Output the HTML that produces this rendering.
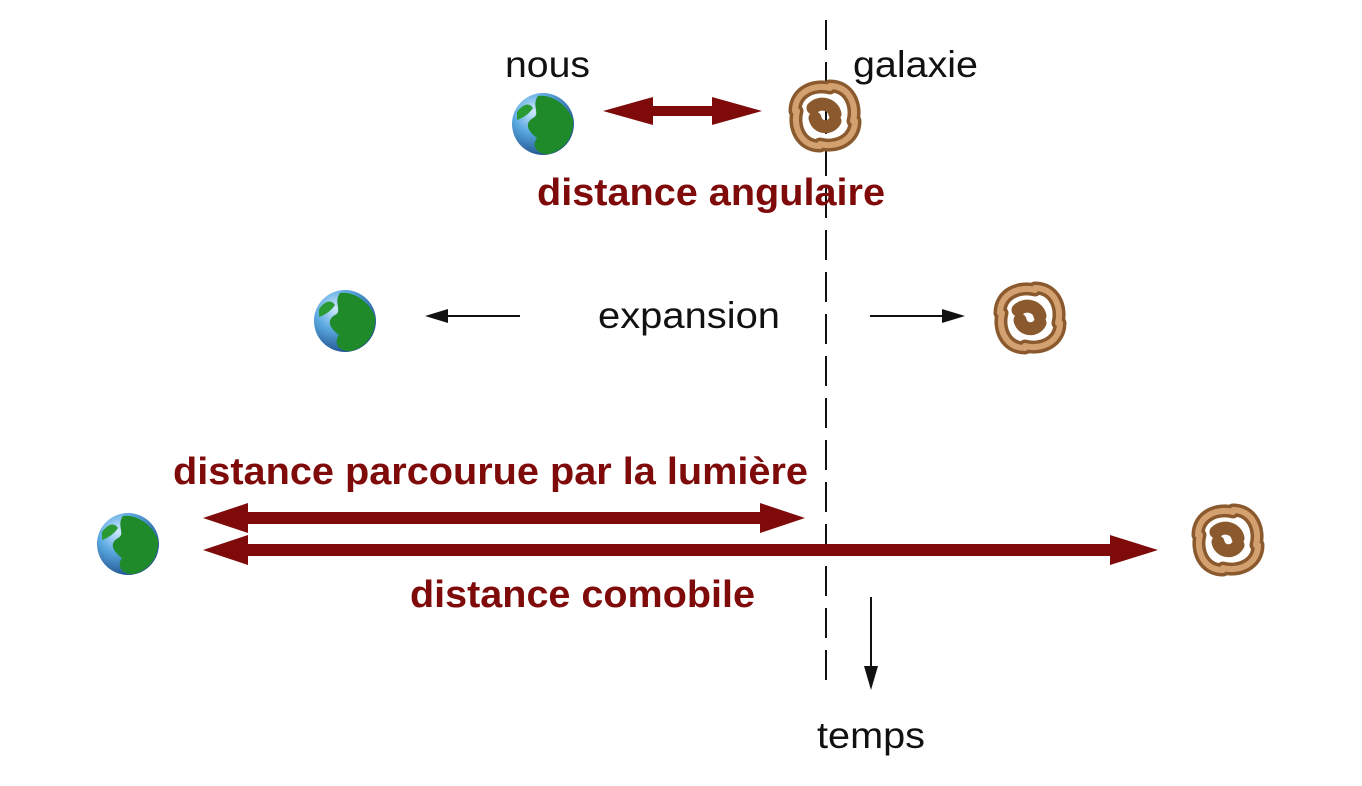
<!DOCTYPE html>
<html><head><meta charset="utf-8"><style>
html,body{margin:0;padding:0;background:#fff;}
svg{display:block}
text{font-family:"Liberation Sans",sans-serif;}
.r{fill:#7f0a0a;font-weight:bold;font-size:38px;}
.b{fill:#111;font-size:37px;}
</style></head><body>
<svg width="1362" height="786" viewBox="0 0 1362 786" xmlns="http://www.w3.org/2000/svg">
<defs>
<radialGradient id="e" cx="35%" cy="30%" r="75%"><stop offset="0" stop-color="#cfe9ff"/><stop offset="0.45" stop-color="#5aa8e0"/><stop offset="1" stop-color="#1d4f8a"/></radialGradient>
<g id="earth">
<circle r="31" fill="url(#e)"/>
<path d="M-5,-28 C10,-30 25,-18 30,-4 C31,12 22,26 6,30 C-6,31 -12,22 -6,14 C-14,8 -20,0 -10,-6 C-2,-10 -12,-18 -5,-28Z" fill="#1f8a2a"/>
<path d="M-26,-12 C-20,-20 -14,-22 -10,-16 C-14,-10 -20,-6 -26,-4Z" fill="#2a9a35"/>
</g>
<g id="gal" fill="none" stroke-linecap="round">
<g stroke="#8a5a2e" stroke-width="13">
<path d="M-30,-5 C-30,-25 -10,-32 5,-28"/>
<path d="M5,-30 C25,-30 32,-10 28,5"/>
<path d="M30,5 C30,25 10,32 -5,28"/>
<path d="M-5,30 C-25,30 -32,10 -28,-5"/>
<path d="M-12,-8 C-5,-15 8,-12 10,-2"/>
<path d="M10,5 C5,14 -8,12 -10,2"/>
</g>
<g stroke="#d3a070" stroke-width="6">
<path d="M-30,-5 C-30,-25 -10,-32 5,-28"/>
<path d="M5,-30 C25,-30 32,-10 28,5"/>
<path d="M30,5 C30,25 10,32 -5,28"/>
<path d="M-5,30 C-25,30 -32,10 -28,-5"/>
</g>
</g>
</defs>
<line x1="826" y1="20" x2="826" y2="692" stroke="#111" stroke-width="2" stroke-dasharray="30,12"/>
<use href="#earth" x="543" y="124"/>
<use href="#gal" x="825" y="116"/>
<text class="b" x="505" y="77" textLength="85" lengthAdjust="spacingAndGlyphs">nous</text>
<text class="b" x="853" y="77" textLength="125" lengthAdjust="spacingAndGlyphs">galaxie</text>
<path d="M603,111 L653,97 L653,106 L712,106 L712,97 L762,111 L712,125 L712,116 L653,116 L653,125Z" fill="#7f0a0a"/>
<text class="r" x="537" y="205" textLength="348" lengthAdjust="spacingAndGlyphs">distance angulaire</text>
<use href="#earth" x="345" y="321"/>
<use href="#gal" x="1030" y="318"/>
<text class="b" x="598" y="328" textLength="182" lengthAdjust="spacingAndGlyphs">expansion</text>
<line x1="520" y1="316" x2="440" y2="316" stroke="#111" stroke-width="2"/>
<path d="M425,316 L448,309 L448,323Z" fill="#111"/>
<line x1="870" y1="316" x2="950" y2="316" stroke="#111" stroke-width="2"/>
<path d="M965,316 L942,309 L942,323Z" fill="#111"/>
<use href="#earth" x="128" y="544"/>
<use href="#gal" x="1228" y="540"/>
<text class="r" x="173" y="484" textLength="635" lengthAdjust="spacingAndGlyphs">distance parcourue par la lumière</text>
<path d="M203,518 L248,503 L248,512 L760,512 L760,503 L805,518 L760,533 L760,524 L248,524 L248,533Z" fill="#7f0a0a"/>
<path d="M203,550 L248,535 L248,544 L1110,544 L1110,535 L1158,550 L1110,565 L1110,556 L248,556 L248,565Z" fill="#7f0a0a"/>
<text class="r" x="410" y="607" textLength="345" lengthAdjust="spacingAndGlyphs">distance comobile</text>
<line x1="871" y1="597" x2="871" y2="672" stroke="#111" stroke-width="2"/>
<path d="M871,690 L864,666 L878,666Z" fill="#111"/>
<text class="b" x="817" y="748" textLength="108" lengthAdjust="spacingAndGlyphs">temps</text>
</svg>
</body></html>
